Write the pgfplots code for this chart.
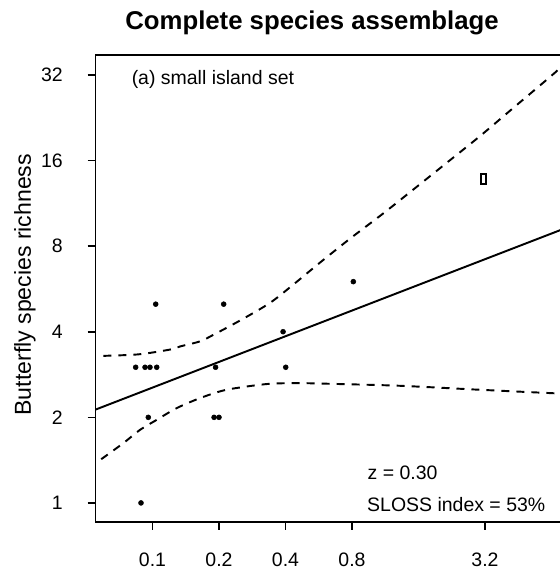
\documentclass[border=0pt]{standalone}
\usepackage{fontspec}
\setmainfont{Liberation Sans}
\usepackage{pgfplots}
\usepackage{pgfplotstable}
\pgfplotsset{compat=1.18}

% island area (km^2) vs. butterfly species richness
\pgfplotstableread{
x y
0.0839 3
0.0925 3
0.0974 3
0.1045 3
0.193 3
0.401 3
0.0957 2
0.190 2
0.200 2
0.0887 1
0.1034 5
0.210 5
0.390 4
0.811 6
}\islandtab

% fitted power model, z = 0.30
\pgfplotstableread{
x y
0.0552 2.129
7.5 9.29
}\fittab

% upper confidence band
\pgfplotstableread{
x y
0.0599 3.29
0.0819 3.32
0.0974 3.37
0.1242 3.48
0.1332 3.55
0.1641 3.70
0.1885 3.90
0.249 4.38
0.340 5.05
0.434 5.86
0.573 7.00
0.784 8.50
1.116 10.47
1.516 12.65
2.146 15.70
3.036 19.49
4.30 24.5
6.64 32.6
7.37 35.4
}\bandhitab

% lower confidence band
\pgfplotstableread{
x y
0.0586 1.425
0.0738 1.623
0.0878 1.807
0.1045 1.960
0.1287 2.155
0.1641 2.337
0.209 2.485
0.267 2.567
0.340 2.624
0.449 2.639
0.636 2.624
1.319 2.582
3.036 2.50
7.37 2.42
}\bandlotab

\begin{document}
\begin{tikzpicture}
\useasboundingbox (-71.625pt,-36.75pt) rectangle (348.375pt,391.5pt);
\clip (-71.625pt,-36.75pt) rectangle (348.375pt,391.5pt);
\begin{axis}[
  name=ax, at={(0,0)}, anchor=south west,
  scale only axis, width=353.4pt, height=350.25pt,
  xmode=log, ymode=log, log basis x=2, log basis y=2,
  xmin=0.0552, xmax=7.5, ymin=0.857, ymax=37.6,
  xtick={0.1,0.2,0.4,0.8,3.2}, xticklabels={0.1,0.2,0.4,0.8,3.2},
  ytick={1,2,4,8,16,32}, yticklabels={1,2,4,8,16,32},
  tick align=outside, major tick length=6pt,
  xtick pos=bottom, ytick pos=left,
  axis line style={line width=1.35pt},
  every tick/.style={black, line width=1.2pt},
  ticklabel style={font=\fontsize{14.6}{16}\selectfont, inner sep=0pt},
  xticklabel style={anchor=north, yshift=-17.25pt},
  yticklabel style={anchor=east, xshift=-18.4pt},
  /pgf/number format/assume math mode=true,
]
\addplot[only marks, mark=*, mark size=1.85pt, black] table {\islandtab};
\addplot[only marks, mark=square, mark size=3.9pt, black,
  mark options={xscale=0.45, line width=1.4pt}] coordinates {(3.15,13.8)};
\addplot[black, line width=1.45pt] table {\fittab};
\addplot[black, line width=1.45pt, smooth, dash pattern=on 6pt off 5.25pt] table {\bandhitab};
\addplot[black, line width=1.45pt, smooth, dash pattern=on 6pt off 5.25pt] table {\bandlotab};
\end{axis}
\node[font=\bfseries\fontsize{19.3}{22}\selectfont] at (162.4pt,374.25pt) {Complete species assemblage};
\node[rotate=90, font=\fontsize{17.3}{20}\selectfont] at (-52.9pt,178pt) {Butterfly species richness};
\node[anchor=base west, inner sep=0pt, font=\fontsize{14.6}{16}\selectfont] at (27pt,327.75pt) {(a) small island set};
\node[anchor=base west, inner sep=0pt, font=\fontsize{14.6}{16}\selectfont] at (203.9pt,31.5pt) {z = 0.30};
\node[anchor=base west, inner sep=0pt, font=\fontsize{14.6}{16}\selectfont] at (203.6pt,7.5pt) {SLOSS index = 53\%};
\end{tikzpicture}
\end{document}
